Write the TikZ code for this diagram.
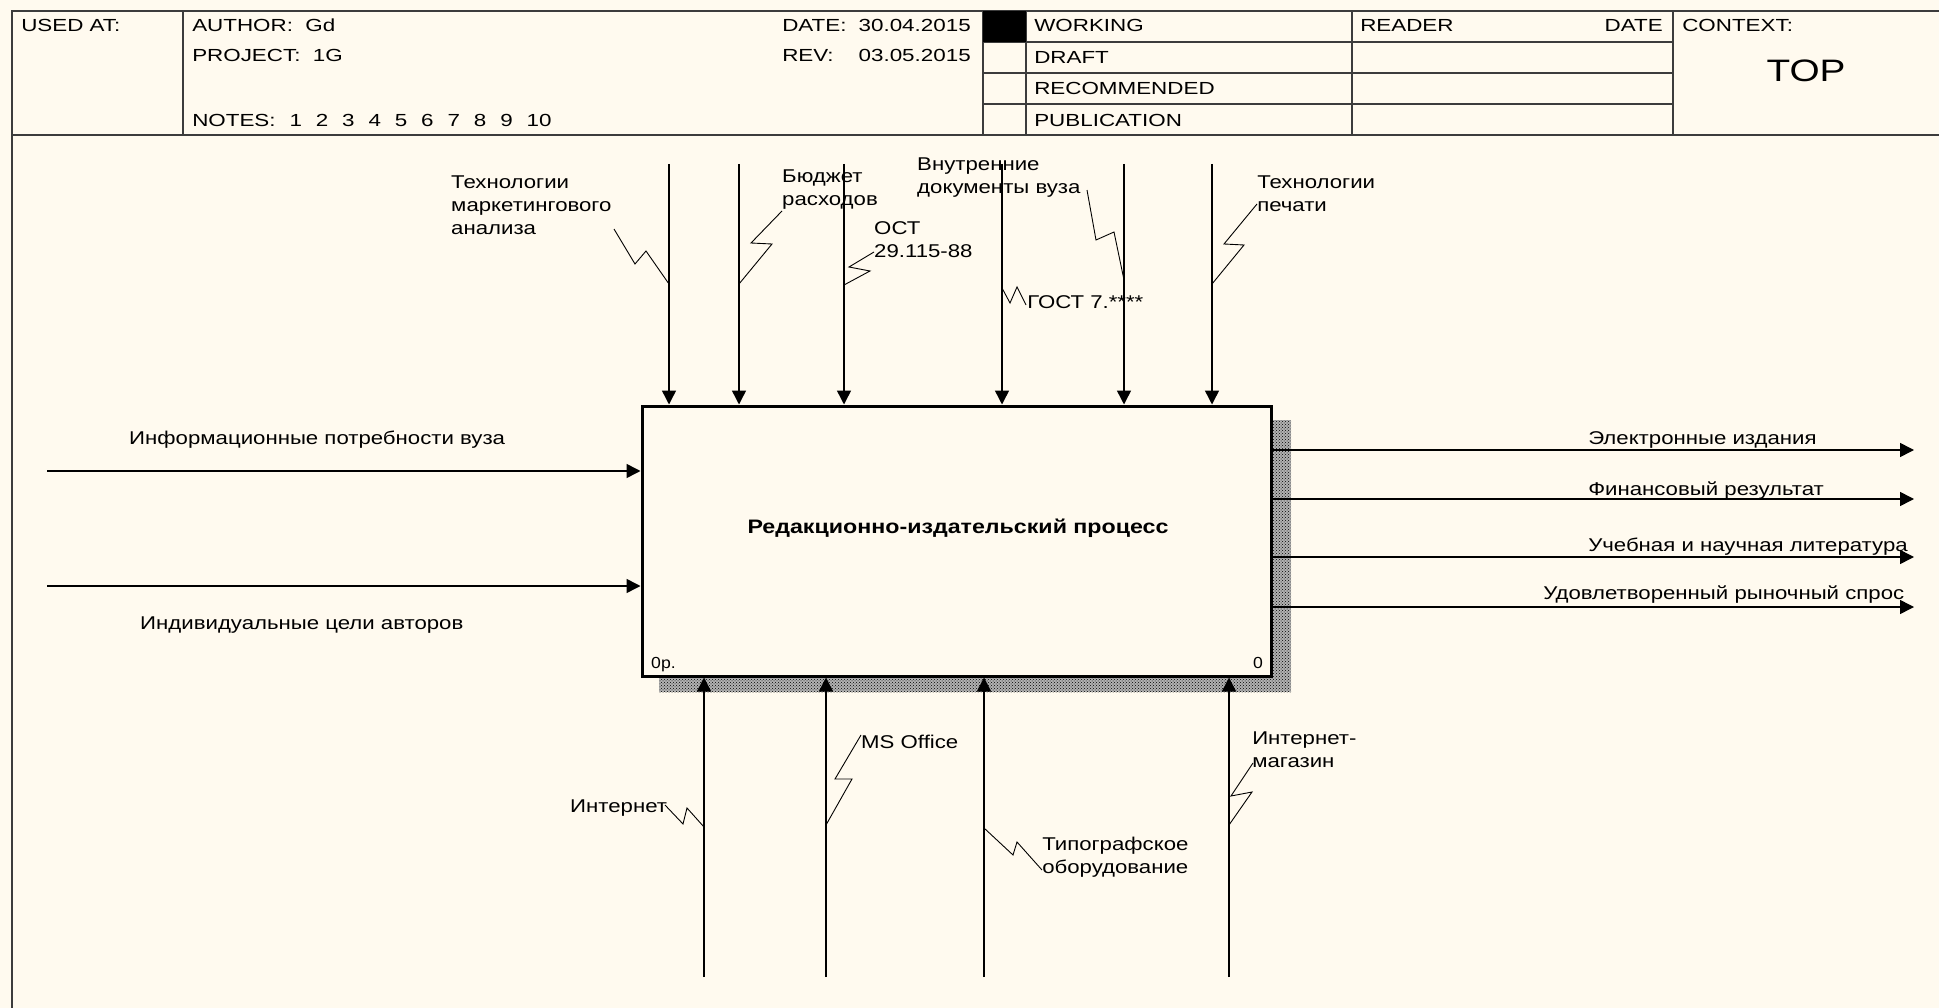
\documentclass[tikz,border=0pt]{standalone}
\usepackage{fontspec}
\setmainfont{Liberation Sans}
\usetikzlibrary{arrows.meta, patterns}
\definecolor{PaperA}{HTML}{FFFAEF}
\definecolor{FrameA}{HTML}{3C3C3C}
\newcommand{\ngap}{\hspace{0.62em}}
\tikzset{
  frm/.style={draw=FrameA, line width=1.6pt},
  hdr/.style={font=\fontsize{17.5}{21}\selectfont, xscale=1.28, inner sep=0pt, text height=12.5pt, text depth=0pt},
  lbl/.style={font=\fontsize{18.5}{23}\selectfont, xscale=1.2, inner sep=0pt, align=left},
  proc/.style={draw, line width=3pt, fill=PaperA, minimum width=629pt, minimum height=270pt, inner sep=0pt},
  shd/.style={pattern=crosshatch dots, pattern color=black},
  arr/.style={-{Triangle[length=14pt, width=14pt]}, line width=1.5pt},
  zz/.style={line width=0.9pt}
}

\begin{document}
\begin{tikzpicture}[x=1pt, y=-1pt]
  \useasboundingbox (0,0) rectangle (1939,1008);
  \fill[PaperA] (0,0) rectangle (1939,1008);

  % header frame
  \draw[frm] (12,1008) -- (12,11) -- (1939,11);
  \draw[frm] (12,135) -- (1939,135);
  \draw[frm] (183,11) -- (183,135);
  \draw[frm] (983,11) -- (983,135);
  \draw[frm] (1026,11) -- (1026,135);
  \draw[frm] (1352,11) -- (1352,135);
  \draw[frm] (1673,11) -- (1673,135);
  \foreach \yy in {42,73,104} \draw[frm] (983,\yy) -- (1673,\yy);
  \fill[black] (983,11) rectangle (1026,42);

  \node[hdr,anchor=west] (usedat) at (21,25) {USED AT:};
  \node[hdr,anchor=west] (author) at (192,25) {AUTHOR:~~Gd};
  \node[hdr,anchor=west] (project) at (192,55) {PROJECT:~~1G};
  \node[hdr,anchor=west] (notes) at (192,120) {NOTES:\ngap1\ngap2\ngap3\ngap4\ngap5\ngap6\ngap7\ngap8\ngap9\ngap10};
  \node[hdr,anchor=west] (datek) at (782,25) {DATE:};
  \node[hdr,anchor=east] (datev) at (971,25) {30.04.2015};
  \node[hdr,anchor=west] (revk) at (782,55) {REV:};
  \node[hdr,anchor=east] (revv) at (971,55) {03.05.2015};
  \node[hdr,anchor=west] (working) at (1034,25) {WORKING};
  \node[hdr,anchor=west] (draft) at (1034,57) {DRAFT};
  \node[hdr,anchor=west] (recom) at (1034,88) {RECOMMENDED};
  \node[hdr,anchor=west] (publ) at (1034,120) {PUBLICATION};
  \node[hdr,anchor=west] (reader) at (1360,25) {READER};
  \node[hdr,anchor=east] (rdate) at (1663,25) {DATE};
  \node[hdr,anchor=west] (context) at (1682,25) {CONTEXT:};
  \node[font=\fontsize{31}{36}\selectfont, xscale=1.25, inner sep=0pt] (top) at (1806,71) {TOP};

  % activity box
  \fill[black!30] (659,420) rectangle (1291,692);
  \fill[shd] (659,420) rectangle (1291,692);
  \node[proc] (proc) at (956.5,541) {};
  \node[font=\bfseries\fontsize{19.5}{23}\selectfont, xscale=1.19, inner sep=0pt] (pname) at (958,528) {Редакционно-издательский процесс};
  \node[font=\fontsize{16}{19}\selectfont, xscale=1.1, inner sep=0pt, anchor=base west] (pnum) at (651,668) {0р.};
  \node[font=\fontsize{16}{19}\selectfont, xscale=1.1, inner sep=0pt, anchor=base east] (pzero) at (1263,668) {0};

  % controls
  \coordinate (c1) at (669,164);
  \coordinate (c2) at (739,164);
  \coordinate (c3) at (844,164);
  \coordinate (c4) at (1002,164);
  \coordinate (c5) at (1124,164);
  \coordinate (c6) at (1212,164);
  \foreach \cc in {c1,c2,c3,c4,c5,c6} \draw[arr] (\cc) -- (\cc |- proc.north);

  \node[lbl,anchor=north west] (t1) at (451,176) {Технологии\\маркетингового\\анализа};
  \node[lbl,anchor=north west] (t2) at (782,170) {Бюджет\\расходов};
  \node[lbl,anchor=north west] (t3) at (874,221) {ОСТ\\29.115-88};
  \node[lbl,anchor=north west] (t4) at (917,158) {Внутренние\\документы вуза};
  \node[lbl,anchor=base west] (t5) at (1027,309) {ГОСТ 7.****};
  \node[lbl,anchor=north west] (t6) at (1257,176) {Технологии\\печати};

  \coordinate (k1) at (669,284);
  \coordinate (k2) at (739,284);
  \coordinate (k3) at (844,285);
  \coordinate (k4) at (1002,288);
  \coordinate (k5) at (1124,280);
  \coordinate (k6) at (1212,284);
  \draw[zz] (k1) -- ++(-23,-33) -- ++(-11,13) -- ++(-21,-35);
  \draw[zz] (k2) -- ++(33,-40) -- ++(-21,-1) -- ++(31,-32);
  \draw[zz] (k3) -- ++(26,-14) -- ++(-21,-4) -- ++(25,-15);
  \draw[zz] (k5) -- ++(-10,-48) -- ++(-18,8) -- ++(-9,-50);
  \draw[zz] (k4) -- ++(8,15) -- ++(7,-16) -- ++(9,18);
  \draw[zz] (k6) -- ++(32,-39) -- ++(-20,-1) -- ++(33,-40);

  % inputs
  \coordinate (a1) at (47,471);
  \coordinate (a2) at (47,586);
  \draw[arr] (a1) -- (a1 -| proc.west);
  \draw[arr] (a2) -- (a2 -| proc.west);
  \node[lbl,anchor=base west] (i1) at (129,444) {Информационные потребности вуза};
  \node[lbl,anchor=base west] (i2) at (140,629) {Индивидуальные цели авторов};

  % outputs
  \coordinate (e1) at (1914,450);
  \coordinate (e2) at (1914,499);
  \coordinate (e3) at (1914,557);
  \coordinate (e4) at (1914,607);
  \foreach \ee in {e1,e2,e3,e4} \draw[arr] (\ee -| proc.east) -- (\ee);
  \node[lbl,anchor=base west] (o1) at (1588,444) {Электронные издания};
  \node[lbl,anchor=base west] (o2) at (1588,495) {Финансовый результат};
  \node[lbl,anchor=base west] (o3) at (1588,551) {Учебная и научная литература};
  \node[lbl,anchor=base west] (o4) at (1543,599) {Удовлетворенный рыночный спрос};

  % mechanisms
  \coordinate (b1) at (704,977);
  \coordinate (b2) at (826,977);
  \coordinate (b3) at (984,977);
  \coordinate (b4) at (1229,977);
  \foreach \bb in {b1,b2,b3,b4} \draw[arr] (\bb) -- (\bb |- proc.south);

  \node[lbl,anchor=base west] (m1) at (570,812) {Интернет};
  \node[lbl,anchor=base west] (m2) at (861,748) {MS Office};
  \node[lbl,anchor=north west] (m3) at (1042,837) {Типографское\\оборудование};
  \node[lbl,anchor=north west] (m4) at (1252,732) {Интернет-\\магазин};

  \coordinate (k7) at (704,827);
  \coordinate (k8) at (826,825);
  \coordinate (k9) at (984,828);
  \coordinate (k10) at (1229,825);
  \draw[zz] (k7) -- ++(-17,-19) -- ++(-4,16) -- ++(-18,-19);
  \draw[zz] (k8) -- ++(26,-46) -- ++(-17,0) -- ++(26,-44);
  \draw[zz] (k9) -- ++(29,27) -- ++(4,-13) -- ++(25,28);
  \draw[zz] (k10) -- ++(23,-33) -- ++(-21,4) -- ++(22,-33);
\end{tikzpicture}
\end{document}
